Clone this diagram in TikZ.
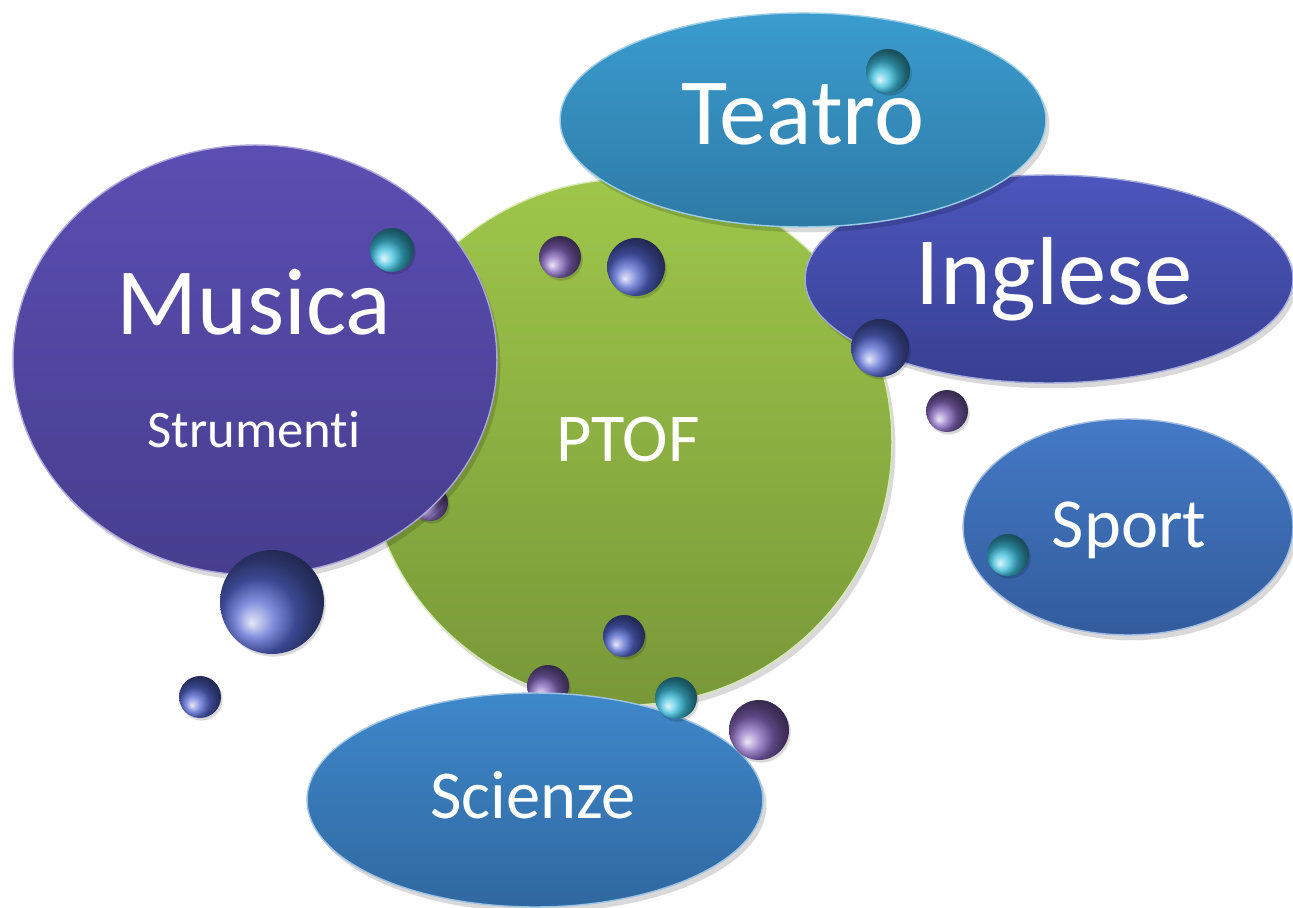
\documentclass[tikz,border=0pt]{standalone}
\usepackage{fontspec}
\setmainfont{Carlito}[Ligatures=NoCommon]
\usetikzlibrary{shapes.geometric, shadows}

\definecolor{musicatop}{RGB}{90,78,178}
\definecolor{musicabot}{RGB}{70,62,142}
\definecolor{ptoftop}{RGB}{158,198,74}
\definecolor{ptofbot}{RGB}{120,152,56}
\definecolor{teatrotop}{RGB}{58,156,206}
\definecolor{teatrobot}{RGB}{46,122,166}
\definecolor{inglesetop}{RGB}{76,86,188}
\definecolor{inglesebot}{RGB}{56,64,146}
\definecolor{sporttop}{RGB}{68,122,198}
\definecolor{sportbot}{RGB}{50,92,156}
\definecolor{scienzetop}{RGB}{62,136,202}
\definecolor{scienzebot}{RGB}{48,104,160}
\definecolor{ballcyan}{RGB}{60,190,220}
\definecolor{ballpurple}{RGB}{132,102,188}
\definecolor{ballblue}{RGB}{84,102,206}

\begin{document}
\begin{tikzpicture}[x=0.02cm, y=-0.02cm,
	blob/.style={ellipse, inner sep=0pt, outer sep=0pt, line width=0.8pt,
		drop shadow={shadow xshift=2pt, shadow yshift=-3pt, opacity=0.15, fill=black}},
	lbl/.style={text=white, inner sep=0pt, anchor=base},
	bubble/.style={circle, inner sep=0pt, outer sep=0pt, shading=ball, ball color=#1,
		shading angle=90,
		drop shadow={shadow xshift=1pt, shadow yshift=-1.5pt, opacity=0.15, fill=black}}]

	\useasboundingbox[fill=white] (0,0) rectangle (1293,908);

	% centre
	\node[blob, minimum size=10.52cm, top color=ptoftop, bottom color=ptofbot,
		draw=ptoftop!40!white] (ptof) at (629,442) {};
	\node[lbl, font=\fontsize{39}{39}\selectfont] (ptoflbl) at (628,461) {PTOF};

	% bubbles behind the others
	\foreach \bx/\by/\bd/\bc/\bn in {560/257/0.84/ballpurple/p1, 636/267/1.16/ballblue/p2,
		624/636/0.84/ballblue/p3, 430/503/0.72/ballpurple/p4, 548/686/0.84/ballpurple/p5}
		\node[bubble=\bc, minimum size=\bd cm] (\bn) at (\bx,\by) {};

	% Musica
	\node[blob, minimum width=9.68cm, minimum height=8.6cm, top color=musicatop,
		bottom color=musicabot, draw=musicatop!50!white] (musica) at (255,360) {};
	\node[lbl, font=\fontsize{54}{54}\selectfont] (musicalbl) at (254,335) {Musica};
	\node[lbl, font=\fontsize{30}{30}\selectfont] (strumenti) at (254,447) {Strumenti};
	\foreach \bx/\by/\bd/\bc/\bn in {392/250/0.88/ballcyan/m1, 272/602/2.08/ballblue/m2,
		200/697/0.84/ballblue/m3}
		\node[bubble=\bc, minimum size=\bd cm] (\bn) at (\bx,\by) {};

	% Inglese
	\node[blob, minimum width=9.76cm, minimum height=4.16cm, top color=inglesetop,
		bottom color=inglesebot, draw=inglesetop!50!white] (inglese) at (1049,279) {};
	\node[lbl, font=\fontsize{55}{55}\selectfont] (ingleselbl) at (1054,305) {Inglese};
	\node[bubble=ballblue, minimum size=1.16cm] (i1) at (880,348) {};

	% Teatro
	\node[blob, minimum width=9.72cm, minimum height=4.28cm, top color=teatrotop,
		bottom color=teatrobot, draw=teatrotop!50!white] (teatro) at (803,120) {};
	\node[lbl, font=\fontsize{54}{54}\selectfont] (teatrolbl) at (803,145) {Teatro};
	\node[bubble=ballcyan, minimum size=0.88cm] (t1) at (888,71) {};

	% Sport
	\node[blob, minimum width=6.6cm, minimum height=4.32cm, top color=sporttop,
		bottom color=sportbot, draw=sporttop!50!white] (sport) at (1128,527) {};
	\node[lbl, font=\fontsize{40}{40}\selectfont] (sportlbl) at (1129,547) {Sport};
	\node[bubble=ballcyan, minimum size=0.84cm] (s1) at (1008,555) {};
	\node[bubble=ballpurple, minimum size=0.84cm] (s2) at (947,411) {};

	% Scienze
	\node[blob, minimum width=9.12cm, minimum height=4.28cm, top color=scienzetop,
		bottom color=scienzebot, draw=scienzetop!50!white] (scienze) at (535,800) {};
	\node[lbl, font=\fontsize{39}{39}\selectfont] (scienzelbl) at (533,818) {Scienze};
	\node[bubble=ballcyan, minimum size=0.84cm] (c1) at (676,698) {};
	\node[bubble=ballpurple, minimum size=1.2cm] (c2) at (759,730) {};
\end{tikzpicture}
\end{document}
